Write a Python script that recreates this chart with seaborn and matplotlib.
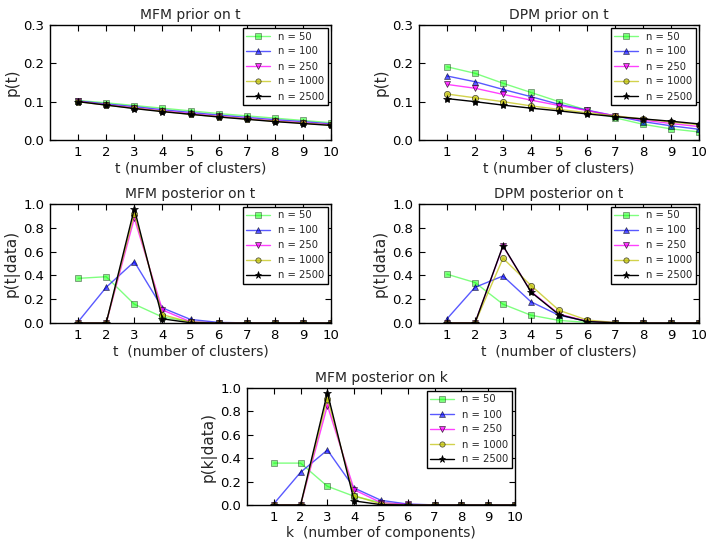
import numpy as np
import matplotlib
matplotlib.use("Agg")
import matplotlib.pyplot as plt
import seaborn as sns

t = np.arange(1, 11)
labels = ["n = 50", "n = 100", "n = 250", "n = 1000", "n = 2500"]

# MFM prior on t
mfm_prior = [
    [0.103, 0.097, 0.090, 0.083, 0.076, 0.069, 0.063, 0.057, 0.051, 0.045],
    [0.102, 0.094, 0.087, 0.079, 0.072, 0.065, 0.059, 0.053, 0.048, 0.042],
    [0.101, 0.092, 0.084, 0.076, 0.069, 0.062, 0.056, 0.050, 0.045, 0.040],
    [0.100, 0.091, 0.083, 0.075, 0.067, 0.061, 0.055, 0.049, 0.044, 0.039],
    [0.100, 0.091, 0.082, 0.074, 0.067, 0.060, 0.054, 0.048, 0.043, 0.038],
]

# DPM prior on t
dpm_prior = [
    [0.191, 0.174, 0.148, 0.124, 0.100, 0.078, 0.058, 0.041, 0.029, 0.021],
    [0.167, 0.152, 0.132, 0.113, 0.093, 0.078, 0.063, 0.048, 0.037, 0.028],
    [0.145, 0.135, 0.119, 0.104, 0.090, 0.077, 0.063, 0.052, 0.043, 0.035],
    [0.120, 0.110, 0.100, 0.089, 0.080, 0.071, 0.063, 0.055, 0.047, 0.040],
    [0.108, 0.100, 0.091, 0.083, 0.076, 0.068, 0.061, 0.055, 0.049, 0.042],
]

# MFM posterior on t
mfm_post_t = [
    [0.375, 0.389, 0.158, 0.050, 0.012, 0.002, 0.0, 0.0, 0.0, 0.0],
    [0.010, 0.300, 0.515, 0.127, 0.030, 0.005, 0.001, 0.0, 0.0, 0.0],
    [0.0, 0.0, 0.880, 0.110, 0.010, 0.001, 0.0, 0.0, 0.0, 0.0],
    [0.0, 0.0, 0.920, 0.070, 0.006, 0.0, 0.0, 0.0, 0.0, 0.0],
    [0.0, 0.0, 0.960, 0.035, 0.002, 0.0, 0.0, 0.0, 0.0, 0.0],
]

# DPM posterior on t
dpm_post_t = [
    [0.410, 0.340, 0.158, 0.065, 0.022, 0.005, 0.001, 0.0, 0.0, 0.0],
    [0.035, 0.300, 0.395, 0.178, 0.065, 0.015, 0.002, 0.0, 0.0, 0.0],
    [0.0, 0.0, 0.645, 0.265, 0.075, 0.015, 0.002, 0.0, 0.0, 0.0],
    [0.0, 0.0, 0.544, 0.315, 0.107, 0.025, 0.004, 0.0, 0.0, 0.0],
    [0.0, 0.0, 0.650, 0.260, 0.070, 0.012, 0.002, 0.0, 0.0, 0.0],
]

# MFM posterior on k
mfm_post_k = [
    [0.358, 0.358, 0.160, 0.074, 0.020, 0.004, 0.0, 0.0, 0.0, 0.0],
    [0.010, 0.280, 0.470, 0.145, 0.040, 0.008, 0.001, 0.0, 0.0, 0.0],
    [0.0, 0.0, 0.850, 0.130, 0.020, 0.005, 0.0, 0.0, 0.0, 0.0],
    [0.0, 0.0, 0.910, 0.080, 0.008, 0.001, 0.0, 0.0, 0.0, 0.0],
    [0.0, 0.0, 0.960, 0.035, 0.003, 0.0, 0.0, 0.0, 0.0, 0.0],
]

colors = ["#00ff00", "#0000ff", "#ff00ff", "#bfbf00", "#000000"]
alphas = [0.5, 0.65, 0.75, 0.7, 1.0]
markers = ["s", "^", "v", "o", "*"]

sns.set_style("white", {
    "axes.edgecolor": "black",
    "xtick.direction": "in", "ytick.direction": "in",
    "xtick.bottom": True, "xtick.top": True,
    "ytick.left": True, "ytick.right": True,
})
plt.rcParams["font.family"] = ["DejaVu Sans"]
plt.rcParams["xtick.major.size"] = 4
plt.rcParams["ytick.major.size"] = 4
plt.rcParams["xtick.color"] = "black"
plt.rcParams["ytick.color"] = "black"

fig = plt.figure(figsize=(7.16, 5.5), dpi=100)

W, H = 716.0, 550.0


def make_ax(x0, x1, y0, y1):
    return fig.add_axes([x0 / W, 1 - y1 / H, (x1 - x0) / W, (y1 - y0) / H])


panels = [
    (make_ax(50, 331, 25, 140), mfm_prior, "MFM prior on t", "p(t)",
     "t (number of clusters)", [0.0, 0.1, 0.2, 0.3]),
    (make_ax(419, 699, 25, 140), dpm_prior, "DPM prior on t", "p(t)",
     "t (number of clusters)", [0.0, 0.1, 0.2, 0.3]),
    (make_ax(50, 331, 204, 323), mfm_post_t, "MFM posterior on t", "p(t|data)",
     "t  (number of clusters)", [0.0, 0.2, 0.4, 0.6, 0.8, 1.0]),
    (make_ax(419, 699, 204, 323), dpm_post_t, "DPM posterior on t", "p(t|data)",
     "t  (number of clusters)", [0.0, 0.2, 0.4, 0.6, 0.8, 1.0]),
    (make_ax(247, 515, 388, 505), mfm_post_k, "MFM posterior on k", "p(k|data)",
     "k  (number of components)", [0.0, 0.2, 0.4, 0.6, 0.8, 1.0]),
]

for ax, series, title, ylab, xlab, yt in panels:
    for vals, lab, c, a, m in zip(series, labels, colors, alphas, markers):
        ms = 6 if m == "*" else 4.5
        sns.lineplot(x=t, y=vals, ax=ax, color=c, alpha=a, marker=m,
                     markersize=ms, markeredgecolor="black",
                     markeredgewidth=0.5, linewidth=1.0, label=lab)
    ax.set_xlim(0, 10)
    ax.set_ylim(yt[0], yt[-1])
    ax.set_xticks(t)
    ax.set_yticks(yt)
    ax.set_yticklabels(["%.1f" % v for v in yt])
    ax.tick_params(labelsize=9.5, pad=4)
    ax.set_title(title, fontsize=10, pad=4)
    ax.set_ylabel(ylab, fontsize=11, labelpad=3)
    ax.set_xlabel(xlab, fontsize=10, labelpad=2)
    for sp in ax.spines.values():
        sp.set_linewidth(1.0)
    leg = ax.legend(loc="upper right", fontsize=7.2, fancybox=False,
                    framealpha=1, edgecolor="black", handlelength=2.4,
                    labelspacing=0.5, borderpad=0.35, numpoints=1,
                    borderaxespad=0.3, handletextpad=0.8, markerscale=0.85)
    leg.get_frame().set_linewidth(1.0)

fig.savefig("out.png", dpi=100)
